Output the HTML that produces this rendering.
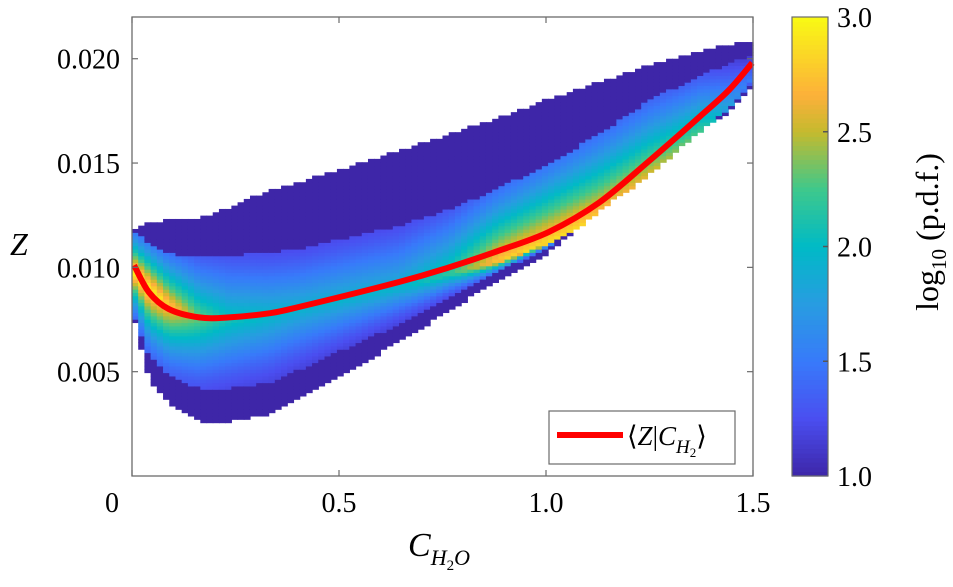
<!DOCTYPE html>
<html><head><meta charset="utf-8">
<style>
body{margin:0;background:#fff;}
svg{display:block;}
text{font-family:"Liberation Serif","Times New Roman",serif;}
</style></head>
<body>
<svg id="chart" width="953" height="587" viewBox="0 0 953 587" font-family="Liberation Serif, serif">
  <rect x="0" y="0" width="953" height="587" fill="#fff"/>
  <g id="cells"></g>
  <g id="curve"></g>
  <g id="axes"></g>
  <g id="legend"></g>
  <g id="cbar"></g>
</svg>
<script>
// ---- data ----
const colX    = [0.005, 0.041, 0.089, 0.162, 0.234, 0.331, 0.403, 0.645, 0.766, 0.886, 1.007, 1.128, 1.249, 1.370, 1.442, 1.498];
const colLow  = [0.0076,0.0047,0.0036,0.0027,0.0027,0.0030,0.0038,0.0065,0.0080,0.0095,0.0108,0.0128,0.0145,0.0166,0.0175,0.0187];
const colDarkLow = [0.0076,0.0058,0.0049,0.0042,0.0042,0.0045,0.0051,0.0073,0.0086,0.0098,0.0110,0.0129,0.0146,0.0167,0.0176,0.0188];
const colHigh = [0.0117,0.0121,0.0122,0.0123,0.0128,0.0136,0.0140,0.0155,0.0163,0.0171,0.0180,0.0188,0.0196,0.0203,0.0206,0.0208];
const colPeak = [0.0098,0.0090,0.0082,0.0076,0.0075,0.0077,0.0080,0.0090,0.0097,0.0103,0.0112,0.0125,0.0144,0.0164,0.0177,0.0190];
const colDark = [0.0117,0.0112,0.0107,0.0105,0.0106,0.0107,0.0109,0.0120,0.0128,0.0138,0.0150,0.0164,0.0180,0.0192,0.0198,0.0202];
const colVal  = [3.0, 3.0, 2.8, 2.35, 2.1, 2.0, 1.95, 1.95, 2.2, 2.8, 2.9, 2.8, 2.6, 2.3, 1.8, 1.5];
const meanX   = [0.005, 0.041, 0.089, 0.162, 0.234, 0.331, 0.403, 0.645, 0.766, 0.886, 1.007, 1.128, 1.249, 1.370, 1.442, 1.498];
const meanZ   = [0.0101,0.0088,0.0080,0.0076,0.0076,0.0078,0.0081,0.0093,0.0100,0.0108,0.0117,0.0131,0.0151,0.0172,0.0185,0.0198];
const xTicks  = [0, 0.5, 1.0, 1.5];
const xTickLabels = ["0","0.5","1.0","1.5"];
const yTicks  = [0.005, 0.010, 0.015, 0.020];
const yTickLabels = ["0.005","0.010","0.015","0.020"];
const cTicks  = [1.0, 1.5, 2.0, 2.5, 3.0];
const cTickLabels = ["1.0","1.5","2.0","2.5","3.0"];

// ---- geometry ----
const L=132, R=753, T=17, B=476;
const X0=0, X1=1.5, Y0=0, Y1=0.022;
const sx = v => L + (v-X0)/(X1-X0)*(R-L);
const sy = v => B - (v-Y0)/(Y1-Y0)*(B-T);
const CB={x:792,w:36,t:17,b:476,min:1,max:3};
const sc = v => CB.b - (v-CB.min)/(CB.max-CB.min)*(CB.b-CB.t);
const FONT='Liberation Serif, Times New Roman, serif';

const NS="http://www.w3.org/2000/svg";
function mk(tag, parent, attrs){const e=document.createElementNS(NS,tag);for(const k in attrs)e.setAttribute(k,attrs[k]);parent.appendChild(e);return e;}

const cmapStops=[[0,[62,38,168]],[0.125,[74,78,240]],[0.25,[56,122,250]],[0.375,[40,156,225]],[0.5,[0,186,198]],[0.625,[62,200,140]],[0.75,[196,186,46]],[0.83,[252,176,58]],[1,[249,250,20]]];
function cmap(v){let t=Math.max(0,Math.min(1,(v-1)/2));
  for(let i=1;i<cmapStops.length;i++){if(t<=cmapStops[i][0]){const a=cmapStops[i-1],b=cmapStops[i];const f=(t-a[0])/(b[0]-a[0]);
    return `rgb(${a[1].map((c,j)=>Math.round(c+(b[1][j]-c)*f)).join(',')})`;}}
  return 'rgb(249,250,20)';}
function lerpArr(xs, ys, x){if(x<=xs[0])return ys[0];for(let i=1;i<xs.length;i++){if(x<=xs[i]){const f=(x-xs[i-1])/(xs[i]-xs[i-1]);return ys[i-1]+(ys[i]-ys[i-1])*f;}}return ys[ys.length-1];}

// ---- heatmap cells ----
const gC=document.getElementById('cells');
const dx=0.015, dz=0.00016;
for(let x=0.0; x<1.5-1e-9; x+=dx){
  const xc=x+dx/2;
  if(xc<colX[0]-0.005) continue;
  const lo=lerpArr(colX,colLow,xc), dl=lerpArr(colX,colDarkLow,xc), hi=lerpArr(colX,colHigh,xc), pk=lerpArr(colX,colPeak,xc), dk=lerpArr(colX,colDark,xc), V=lerpArr(colX,colVal,xc);
  const z0=Math.floor(lo/dz)*dz;
  for(let z=z0; z<hi; z+=dz){
    const zc=z+dz/2; let f;
    if(zc<pk){ if(zc<dl) f=0; else {const s=(zc-dl)/Math.max(1e-6,pk-dl); f=0.2+0.8*Math.pow(s,1.3);} }
    else {const s=(zc-pk)/Math.max(1e-6,dk-pk); f = s>=1?0:0.25+0.75*Math.pow(1-s,1.2);}
    const v=1+(V-1)*f;
    const r=mk('rect',gC,{x:sx(x).toFixed(2),y:sy(z+dz).toFixed(2),width:(sx(x+dx)-sx(x)+0.6).toFixed(2),height:(sy(z)-sy(z+dz)+0.6).toFixed(2),fill:cmap(v)});
    
    
  }
}

// ---- mean curve (smooth Catmull-Rom) ----
const gL=document.getElementById('curve');
const P=meanX.map((x,i)=>[sx(x),sy(meanZ[i])]);
let d='M'+P[0][0].toFixed(1)+','+P[0][1].toFixed(1);
for(let i=0;i<P.length-1;i++){
  const p0=P[Math.max(0,i-1)],p1=P[i],p2=P[i+1],p3=P[Math.min(P.length-1,i+2)];
  const c1=[p1[0]+(p2[0]-p0[0])/6,p1[1]+(p2[1]-p0[1])/6], c2=[p2[0]-(p3[0]-p1[0])/6,p2[1]-(p3[1]-p1[1])/6];
  d+=`C${c1[0].toFixed(1)},${c1[1].toFixed(1)} ${c2[0].toFixed(1)},${c2[1].toFixed(1)} ${p2[0].toFixed(1)},${p2[1].toFixed(1)}`;
}
const pl=mk('path',gL,{d:d,fill:'none',stroke:'#ff0000','stroke-width':6,'stroke-linejoin':'round'});



// ---- axes ----
const gA=document.getElementById('axes');
const box=mk('rect',gA,{x:L,y:T,width:R-L,height:B-T,fill:'none',stroke:'#6b6b6b','stroke-width':1.3});


xTicks.forEach((t,i)=>{
  mk('line',gA,{x1:sx(t),x2:sx(t),y1:B,y2:B-6,stroke:'#6b6b6b','stroke-width':1.2});
  mk('line',gA,{x1:sx(t),x2:sx(t),y1:T,y2:T+6,stroke:'#6b6b6b','stroke-width':1.2});
  const tx=mk('text',gA,{x:(i===0?112:sx(t)),y:512,'text-anchor':'middle','font-size':28,fill:'#000','font-family':FONT});
  tx.textContent=xTickLabels[i];
  
  
});
yTicks.forEach((t,i)=>{
  mk('line',gA,{x1:L,x2:L+6,y1:sy(t),y2:sy(t),stroke:'#6b6b6b','stroke-width':1.2});
  mk('line',gA,{x1:R,x2:R-6,y1:sy(t),y2:sy(t),stroke:'#6b6b6b','stroke-width':1.2});
  const tx=mk('text',gA,{x:120,y:sy(t)+10,'text-anchor':'end','font-size':28,fill:'#000','font-family':FONT});
  tx.textContent=yTickLabels[i];
  
  
});
const yt=mk('text',gA,{x:10,y:255,'font-size':32,'font-style':'italic',fill:'#000','font-family':FONT});
yt.textContent='Z';


const xt=mk('text',gA,{x:408,y:556,'font-size':34,'font-style':'italic',fill:'#000','font-family':FONT});
xt.innerHTML='C<tspan font-size="22" dy="9">H</tspan><tspan font-size="15" font-style="normal" dy="5">2</tspan><tspan font-size="22" dy="-5">O</tspan>';



// ---- legend ----
const gG=document.getElementById('legend');
const lb=mk('rect',gG,{x:549,y:411,width:186,height:53,fill:'#fff',stroke:'#6b6b6b','stroke-width':1.2});


const ll=mk('line',gG,{x1:557,x2:623,y1:435,y2:435,stroke:'#ff0000','stroke-width':6});


const lt=mk('text',gG,{x:627,y:445,'font-size':27,fill:'#000','font-family':FONT});
lt.innerHTML='⟨<tspan font-style="italic">Z</tspan>|<tspan font-style="italic">C</tspan><tspan font-size="19" font-style="italic" dy="8">H</tspan><tspan font-size="13" dy="4">2</tspan><tspan dy="-12">⟩</tspan>';



// ---- colorbar ----
const gB=document.getElementById('cbar');
for(let v=1; v<3; v+=0.02){
  mk('rect',gB,{x:CB.x,y:sc(v+0.02).toFixed(2),width:CB.w,height:(sc(v)-sc(v+0.02)+0.6).toFixed(2),fill:cmap(v+0.01)});
}
const cbf=mk('rect',gB,{x:CB.x,y:CB.t,width:CB.w,height:CB.b-CB.t,fill:'none',stroke:'#6b6b6b','stroke-width':1.2});


cTicks.forEach((t,i)=>{
  if(i>0&&i<cTicks.length-1) mk('line',gB,{x1:CB.x+CB.w,x2:CB.x+CB.w-5,y1:sc(t),y2:sc(t),stroke:'#555','stroke-width':1.5});
  const tx=mk('text',gB,{x:837,y:sc(t)+10,'font-size':28,fill:'#000','font-family':FONT});
  tx.textContent=cTickLabels[i];
  
  
});
const ct=mk('text',gB,{x:0,y:0,'font-size':32,fill:'#000','text-anchor':'middle','font-family':FONT,transform:'translate(938,232) rotate(-90)'});
ct.innerHTML='log<tspan font-size="21" dy="8">10</tspan><tspan dy="-8"> (p.d.f.)</tspan>';


</script>
</body></html>
